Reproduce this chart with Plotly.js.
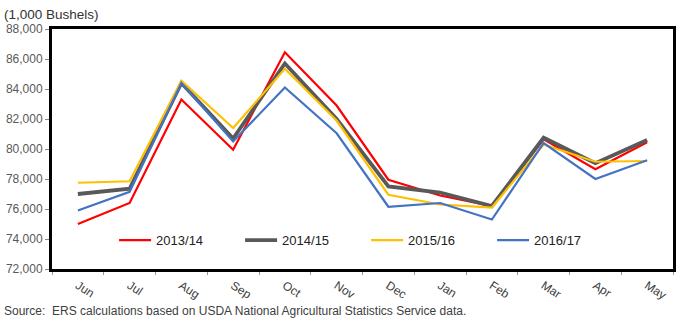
<!DOCTYPE html>
<html>
<head>
<meta charset="utf-8">
<script src="https://cdn.plot.ly/plotly-3.0.1.min.js"></script>
<style>html,body{margin:0;padding:0;background:#fff}#chart{width:680px;height:322px}</style>
</head>
<body>
<div id="chart"></div>
<script>
const months = ["Jun","Jul","Aug","Sep","Oct","Nov","Dec","Jan","Feb","Mar","Apr","May"];
const y2013 = [75000, 76400, 83300, 79950, 86450, 82900, 77950, 76900, 76200, 80650, 78650, 80450];
const y2014 = [77000, 77350, 84400, 80700, 85700, 82000, 77500, 77100, 76200, 80750, 79050, 80600];
const y2015 = [77750, 77850, 84550, 81400, 85350, 81900, 76950, 76300, 76100, 80300, 79150, 79200];
const y2016 = [75900, 77150, 84400, 80500, 84100, 81050, 76150, 76400, 75300, 80400, 78000, 79250];
const seriesNames = ["2013/14","2014/15","2015/16","2016/17"];
const yTicks = [72000,74000,76000,78000,80000,82000,84000,86000,88000];

const colors = ["#FF0000","#595959","#FFC000","#4472C4"];
const widths = [2.2,3.8,2.2,2.2];
const data = [y2013,y2014,y2015,y2016].map((ys,i)=>({
  type:"scatter", mode:"lines", x:months, y:ys, name:seriesNames[i],
  line:{color:colors[i], width:widths[i]}
}));

const layout = {
  width:680, height:322,
  margin:{l:52, r:7, t:29, b:53},
  paper_bgcolor:"#fff", plot_bgcolor:"#fff",
  font:{family:"Liberation Sans, Arial, sans-serif", size:11, color:"#404040"},
  showlegend:true,
  legend:{orientation:"h", x:0.1, xanchor:"left", y:0.12, yanchor:"middle",
    font:{size:13, color:"#222"}, bgcolor:"rgba(0,0,0,0)", entrywidth:79, entrywidthmode:"pixels",
    itemwidth:32, tracegroupgap:0},
  xaxis:{type:"category", range:[-0.5,11.5], showgrid:false, zeroline:false, showline:true, mirror:true,
    linecolor:"#000", linewidth:3, tickangle:33, ticks:"outside", tickson:"boundaries", ticklen:3, tickcolor:"#999",
    tickfont:{size:12, color:"#404040"}, ticklabelshift:0, ticklabelstandoff:2},
  yaxis:{range:[72000,88000], tickvals:yTicks, tickformat:",d", showgrid:false, zeroline:false,
    showline:true, mirror:true, linecolor:"#000", linewidth:3, ticks:"outside", ticklen:4, tickcolor:"#888",
    tickfont:{size:12, color:"#595959"}},
  annotations:[
    {text:"(1,000 Bushels)", xref:"paper", yref:"paper", x:-0.08, y:1.0, xanchor:"left", yanchor:"bottom",
     yshift:5, showarrow:false, font:{size:13.5, color:"#333"}},
    {text:"Source:  ERS calculations based on USDA National Agricultural Statistics Service data.",
     xref:"paper", yref:"paper", x:-0.08, y:0, xanchor:"left", yanchor:"top", yshift:-33,
     showarrow:false, font:{size:12, color:"#404040"}}
  ]
};
Plotly.newPlot("chart", data, layout, {displayModeBar:false, staticPlot:true});
</script>
</body>
</html>
